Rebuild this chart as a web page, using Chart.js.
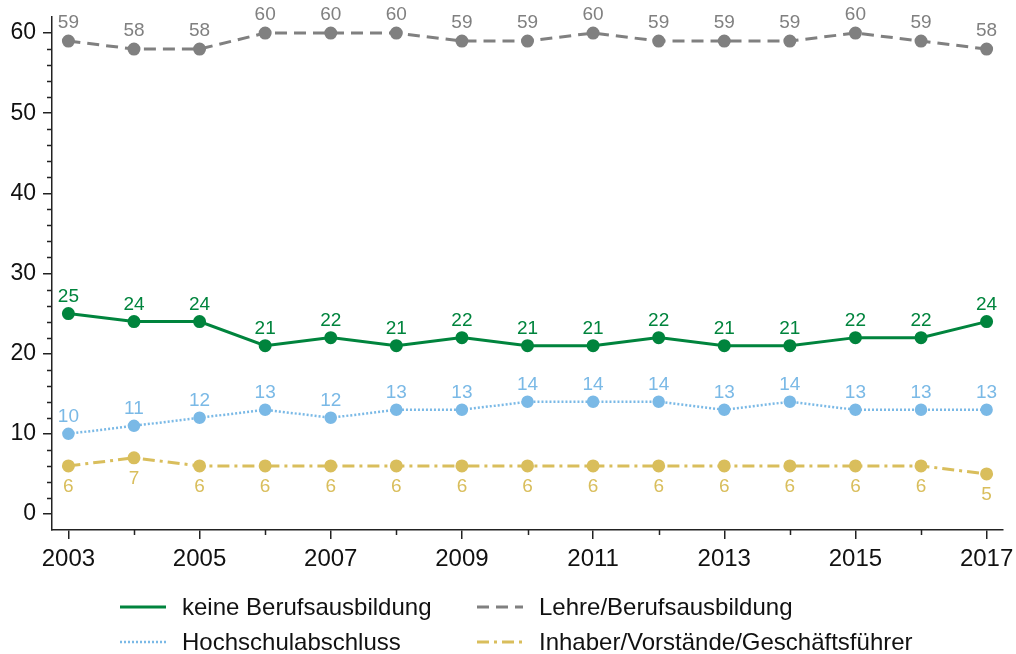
<!DOCTYPE html>
<html>
<head>
<meta charset="utf-8">
<script src="https://cdn.jsdelivr.net/npm/chart.js@4"></script>
<style>
  html, body { margin: 0; padding: 0; background: #fff; }
  #wrap { width: 1016px; height: 654px; position: relative; }
</style>
</head>
<body>
<div id="wrap"><canvas id="chart"></canvas></div>
<script>
// data
const years = [2003, 2004, 2005, 2006, 2007, 2008, 2009, 2010, 2011, 2012, 2013, 2014, 2015, 2016, 2017];
const keineBerufsausbildung = [25, 24, 24, 21, 22, 21, 22, 21, 21, 22, 21, 21, 22, 22, 24];
const lehreBerufsausbildung = [59, 58, 58, 60, 60, 60, 59, 59, 60, 59, 59, 59, 60, 59, 58];
const hochschulabschluss = [10, 11, 12, 13, 12, 13, 13, 14, 14, 14, 13, 14, 13, 13, 13];
const inhaberVorstaende = [6, 7, 6, 6, 6, 6, 6, 6, 6, 6, 6, 6, 6, 6, 5];
const yTicks = [0, 10, 20, 30, 40, 50, 60];
const yMinorTicks = [2, 4, 6, 8, 12, 14, 16, 18, 22, 24, 26, 28, 32, 34, 36, 38, 42, 44, 46, 48, 52, 54, 56, 58];
const xTicks = [2003, 2005, 2007, 2009, 2011, 2013, 2015, 2017];
const xMinorTicks = [2004, 2006, 2008, 2010, 2012, 2014, 2016];

const FONT = '"Liberation Sans", Arial, Helvetica, sans-serif';
const GREEN = 'rgb(0, 132, 61)';
const GREY = 'rgb(128, 128, 128)';
const BLUE = 'rgb(122, 185, 230)';
const GOLD = 'rgb(217, 190, 92)';

function toPoints(values) {
  return values.map((v, i) => ({ x: years[i], y: v }));
}

// minor tick marks on both axes
const minorTicks = {
  id: 'minorTicks',
  afterDraw(chart) {
    const { ctx, scales: { x, y }, chartArea } = chart;
    ctx.save();
    ctx.strokeStyle = '#222';
    ctx.lineWidth = 1.5;
    ctx.beginPath();
    yMinorTicks.forEach(v => {
      const py = Math.round(y.getPixelForValue(v)) + 0.5;
      ctx.moveTo(chartArea.left - 5, py);
      ctx.lineTo(chartArea.left, py);
    });
    xMinorTicks.forEach(v => {
      const px = Math.round(x.getPixelForValue(v)) + 0.5;
      ctx.moveTo(px, chartArea.bottom);
      ctx.lineTo(px, chartArea.bottom + 5);
    });
    ctx.stroke();
    ctx.restore();
  }
};

// value labels next to each point
const valueLabels = {
  id: 'valueLabels',
  afterDatasetsDraw(chart) {
    const { ctx } = chart;
    ctx.save();
    ctx.font = '19px ' + FONT;
    ctx.textAlign = 'center';
    ctx.textBaseline = 'middle';
    chart.data.datasets.forEach((ds, di) => {
      const meta = chart.getDatasetMeta(di);
      ctx.fillStyle = ds.borderColor;
      meta.data.forEach((pt, i) => {
        ctx.fillText(String(ds.data[i].y), pt.x, pt.y + ds.labelOffset);
      });
    });
    ctx.restore();
  }
};

// two-column legend below the plot
const gridLegend = {
  id: 'gridLegend',
  afterDraw(chart) {
    const { ctx } = chart;
    const cols = [120, 477];
    const rows = [607, 642];
    ctx.save();
    ctx.font = '24px ' + FONT;
    ctx.textBaseline = 'middle';
    ctx.fillStyle = '#111';
    chart.data.datasets.forEach((ds, i) => {
      const x0 = cols[i % 2];
      const y0 = rows[Math.floor(i / 2)];
      ctx.strokeStyle = ds.borderColor;
      ctx.lineWidth = ds.borderWidth;
      ctx.setLineDash(ds.borderDash || []);
      ctx.beginPath();
      ctx.moveTo(x0, y0);
      ctx.lineTo(x0 + 46, y0);
      ctx.stroke();
      ctx.setLineDash([]);
      ctx.fillText(ds.label, x0 + 62, y0 + 1);
    });
    ctx.restore();
  }
};

new Chart(document.getElementById('chart'), {
  type: 'line',
  data: {
    datasets: [
      {
        label: 'keine Berufsausbildung',
        data: toPoints(keineBerufsausbildung),
        borderColor: GREEN,
        backgroundColor: GREEN,
        borderWidth: 3,
        labelOffset: -17
      },
      {
        label: 'Lehre/Berufsausbildung',
        data: toPoints(lehreBerufsausbildung),
        borderColor: GREY,
        backgroundColor: GREY,
        borderWidth: 3,
        borderDash: [12, 7],
        labelOffset: -18
      },
      {
        label: 'Hochschulabschluss',
        data: toPoints(hochschulabschluss),
        borderColor: BLUE,
        backgroundColor: BLUE,
        borderWidth: 2.5,
        borderDash: [2, 2],
        labelOffset: -17
      },
      {
        label: 'Inhaber/Vorstände/Geschäftsführer',
        data: toPoints(inhaberVorstaende),
        borderColor: GOLD,
        backgroundColor: GOLD,
        borderWidth: 3,
        borderDash: [12, 5, 3, 5],
        labelOffset: 21
      }
    ]
  },
  options: {
    responsive: true,
    maintainAspectRatio: false,
    animation: false,
    layout: { padding: { top: 17, right: 13, bottom: 80, left: 0 } },
    elements: {
      line: { tension: 0, fill: false },
      point: { radius: 5, borderWidth: 0, hoverRadius: 5 }
    },
    plugins: {
      legend: { display: false },
      tooltip: { enabled: false }
    },
    scales: {
      x: {
        type: 'linear',
        min: 2002.75,
        max: 2017.25,
        afterBuildTicks: scale => { scale.ticks = xTicks.map(v => ({ value: v })); },
        afterFit: scale => {
          scale.height = 44;
          scale.paddingLeft = 0;
          scale.paddingRight = 0;
        },
        border: { display: true, color: '#222', width: 1.5 },
        grid: { drawOnChartArea: false, drawTicks: true, tickLength: 9, color: '#222', lineWidth: 1.5 },
        ticks: {
          color: '#111',
          padding: 6,
          maxRotation: 0,
          font: { family: FONT, size: 24 },
          callback: v => String(v)
        }
      },
      y: {
        min: -2,
        max: 62,
        afterBuildTicks: scale => { scale.ticks = yTicks.map(v => ({ value: v })); },
        afterFit: scale => {
          scale.width = 52;
          scale.paddingTop = 0;
          scale.paddingBottom = 0;
        },
        border: { display: true, color: '#222', width: 1.5 },
        grid: { drawOnChartArea: false, drawTicks: true, tickLength: 9, color: '#222', lineWidth: 1.5 },
        ticks: {
          color: '#111',
          padding: 7,
          font: { family: FONT, size: 23 }
        }
      }
    }
  },
  plugins: [minorTicks, valueLabels, gridLegend]
});
</script>
</body>
</html>
